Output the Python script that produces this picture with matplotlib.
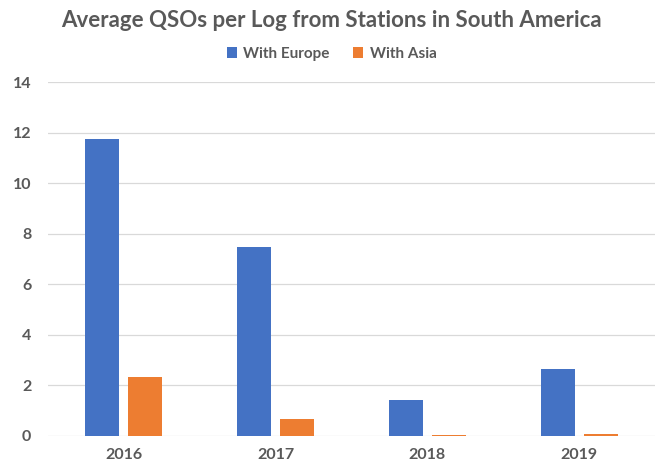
import numpy as np
import matplotlib
matplotlib.use("Agg")
import matplotlib.pyplot as plt

years = ["2016", "2017", "2018", "2019"]
europe = [11.74, 7.48, 1.42, 2.65]
asia = [2.33, 0.67, 0.03, 0.08]

plt.rcParams['font.family'] = ['Lato', 'DejaVu Sans']
gray = "#595959"

fig = plt.figure(figsize=(6.63, 4.65), dpi=100)
ax = fig.add_axes([0.0724, 0.0624, 0.9155, 0.761])

x = np.arange(len(years))
w = 0.224
ax.bar(x - 0.142, europe, w, color="#4472C4", label="With Europe", zorder=3)
ax.bar(x + 0.142, asia, w, color="#ED7D31", label="With Asia", zorder=3)

ax.set_xlim(-0.5, 3.5)
ax.set_ylim(0, 14)
ax.set_yticks(range(0, 15, 2))
ax.set_xticks(x)
ax.set_xticklabels(years)
ax.grid(axis="y", color="#D9D9D9", linewidth=0.9, zorder=0)
for s in ax.spines.values():
    s.set_visible(False)
ax.tick_params(length=0, colors=gray, labelsize=11.5, pad=9)
ax.tick_params(axis="y", pad=12)
for lab in ax.get_xticklabels() + ax.get_yticklabels():
    lab.set_fontweight("bold")

fig.text(0.5, 0.955, "Average QSOs per Log from Stations in South America",
         ha="center", va="center", fontsize=16, fontweight="bold", color=gray)
leg = fig.legend(loc="center", bbox_to_anchor=(0.5, 0.884), ncol=2, frameon=False,
                 fontsize=11, handlelength=0.7, handleheight=0.7, columnspacing=1.5,
                 handletextpad=0.4)
for t in leg.get_texts():
    t.set_color(gray)
    t.set_fontweight("bold")

fig.savefig("out.png")
